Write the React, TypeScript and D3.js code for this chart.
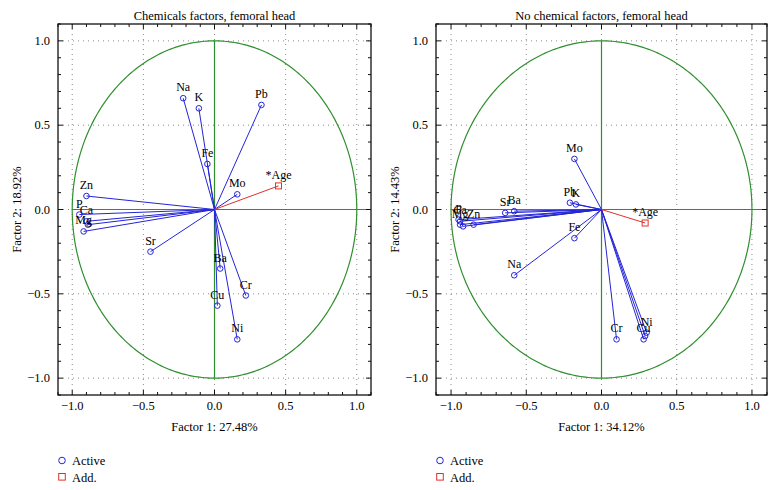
import React from "react";
import * as d3 from "d3";

// ---------- data ----------
const leftTitle = "Chemicals factors, femoral head";
const rightTitle = "No chemical factors, femoral head";
const leftXLabel = "Factor 1: 27.48%";
const leftYLabel = "Factor 2: 18.92%";
const rightXLabel = "Factor 1: 34.12%";
const rightYLabel = "Factor 2: 14.43%";

const leftNames = ["Na", "K", "Pb", "Fe", "Mo", "Zn", "P", "Ca", "", "Mg", "Sr", "Ba", "Cr", "Cu", "Ni"];
const leftF1 = [-0.22, -0.11, 0.33, -0.05, 0.16, -0.9, -0.95, -0.9, -0.89, -0.92, -0.45, 0.04, 0.22, 0.02, 0.16];
const leftF2 = [0.66, 0.6, 0.62, 0.27, 0.09, 0.08, -0.03, -0.07, -0.09, -0.13, -0.25, -0.35, -0.51, -0.57, -0.77];
const leftAdd = { name: "*Age", f1: 0.45, f2: 0.14 };

const rightNames = ["Mo", "Pb", "K", "Sr", "Ba", "Fe", "Na", "Cr", "Ni", "", "Cu", "P", "Ca", "Mg", "", "Zn"];
const rightF1 = [-0.18, -0.21, -0.17, -0.64, -0.58, -0.18, -0.58, 0.1, 0.3, 0.29, 0.28, -0.95, -0.94, -0.94, -0.92, -0.85];
const rightF2 = [0.3, 0.04, 0.03, -0.02, -0.01, -0.17, -0.39, -0.77, -0.73, -0.75, -0.77, -0.06, -0.07, -0.09, -0.1, -0.09];
const rightAdd = { name: "*Age", f1: 0.29, f2: -0.08 };

const majorTicks = [-1.0, -0.5, 0.0, 0.5, 1.0];
const tickLabels = ["\u22121.0", "\u22120.5", "0.0", "0.5", "1.0"];
const legendLabels = ["Active", "Add."];

// ---------- style ----------
const FONT = "'Liberation Serif', 'DejaVu Serif', serif";
const BLUE = "#2424d8";
const RED = "#e0302c";
const GREEN = "#2f8f2f";

type PanelProps = {
  x0: number; x1: number; y0: number; y1: number;
  title: string; xLabel: string; yLabel: string;
  names: string[]; f1: number[]; f2: number[];
  add: { name: string; f1: number; f2: number };
  legendX: number;
};

function Panel(p: PanelProps) {
  const x = d3.scaleLinear().domain([-1.1, 1.1]).range([p.x0, p.x1]);
  const y = d3.scaleLinear().domain([-1.1, 1.1]).range([p.y1, p.y0]);
  const minor = d3.range(-11, 12).map((i) => i / 10);
  const circlePath = d3.line<number>()
    .x((t) => x(Math.cos(t)))
    .y((t) => y(Math.sin(t)))(d3.range(0, 361).map((d) => (d * Math.PI) / 180));
  const cx = (p.x0 + p.x1) / 2;
  const cy = (p.y0 + p.y1) / 2;
  return (
    <g>
      <text x={cx} y={20} textAnchor="middle" fontSize={12.5} fontFamily={FONT}>{p.title}</text>
      {/* grid */}
      {majorTicks.map((t, i) => (
        <g key={"g" + i}>
          <line x1={x(t)} x2={x(t)} y1={p.y0} y2={p.y1} stroke="#8a8a8a" strokeWidth={1} strokeDasharray="1 4" />
          <line x1={p.x0} x2={p.x1} y1={y(t)} y2={y(t)} stroke="#8a8a8a" strokeWidth={1} strokeDasharray="1 4" />
        </g>
      ))}
      {/* unit circle and axes */}
      <path d={circlePath || ""} fill="none" stroke={GREEN} strokeWidth={1.2} />
      <line x1={x(0)} x2={x(0)} y1={y(1)} y2={y(-1)} stroke={GREEN} strokeWidth={1.2} />
      <line x1={x(-1)} x2={p.x1} y1={y(0)} y2={y(0)} stroke={GREEN} strokeWidth={1.2} />
      {/* vectors */}
      {p.names.map((n, i) => (
        <line key={"v" + i} x1={x(0)} y1={y(0)} x2={x(p.f1[i])} y2={y(p.f2[i])} stroke={BLUE} strokeWidth={1} />
      ))}
      <line x1={x(0)} y1={y(0)} x2={x(p.add.f1)} y2={y(p.add.f2)} stroke={RED} strokeWidth={1} />
      {p.names.map((n, i) => (
        <circle key={"c" + i} cx={x(p.f1[i])} cy={y(p.f2[i])} r={2.8} fill="none" stroke={BLUE} strokeWidth={1} />
      ))}
      <rect x={x(p.add.f1) - 3} y={y(p.add.f2) - 3} width={6} height={6} fill="none" stroke={RED} strokeWidth={1} />
      {p.names.map((n, i) => (
        <text key={"t" + i} x={x(p.f1[i])} y={y(p.f2[i]) - 7} textAnchor="middle" fontSize={12} fontFamily={FONT}>{n}</text>
      ))}
      <text x={x(p.add.f1)} y={y(p.add.f2) - 7} textAnchor="middle" fontSize={12} fontFamily={FONT}>{p.add.name}</text>
      {/* frame */}
      <rect x={p.x0} y={p.y0} width={p.x1 - p.x0} height={p.y1 - p.y0} fill="none" stroke="#111" strokeWidth={1.3} />
      {/* ticks */}
      {minor.map((t, i) => {
        const major = Math.abs(t * 2 - Math.round(t * 2)) < 1e-6 && Math.abs(t) <= 1;
        const L = major ? 5 : 3;
        return (
          <g key={"k" + i} stroke="#111" strokeWidth={1}>
            <line x1={x(t)} x2={x(t)} y1={p.y1} y2={p.y1 - L} />
            <line x1={x(t)} x2={x(t)} y1={p.y0} y2={p.y0 + L} />
            <line x1={p.x0} x2={p.x0 + L} y1={y(t)} y2={y(t)} />
            <line x1={p.x1} x2={p.x1 - L} y1={y(t)} y2={y(t)} />
          </g>
        );
      })}
      {majorTicks.map((t, i) => (
        <g key={"l" + i} fontSize={12.5} fontFamily={FONT}>
          <text x={x(t)} y={p.y1 + 15} textAnchor="middle">{tickLabels[i]}</text>
          <text x={p.x0 - 8} y={y(t) + 4} textAnchor="end">{tickLabels[i]}</text>
        </g>
      ))}
      <text x={x(0)} y={431} textAnchor="middle" fontSize={12.5} fontFamily={FONT}>{p.xLabel}</text>
      <text transform={`translate(${p.x0 - 37},${cy}) rotate(-90)`} textAnchor="middle" fontSize={12.5} fontFamily={FONT}>{p.yLabel}</text>
      {/* legend */}
      <circle cx={p.legendX} cy={460.5} r={3.3} fill="none" stroke={BLUE} strokeWidth={1} />
      <text x={p.legendX + 10} y={465} fontSize={12.5} fontFamily={FONT}>{legendLabels[0]}</text>
      <rect x={p.legendX - 3.3} y={473.5} width={6.6} height={6.6} fill="none" stroke={RED} strokeWidth={1} />
      <text x={p.legendX + 10} y={481.5} fontSize={12.5} fontFamily={FONT}>{legendLabels[1]}</text>
    </g>
  );
}

export default function App() {
  return (
    <svg width={775} height={490} style={{ position: "absolute", left: 0, top: 0, background: "#fff" }}>
      <rect width={775} height={490} fill="#fff" />
      <Panel x0={58} x1={371} y0={24} y1={395} title={leftTitle} xLabel={leftXLabel} yLabel={leftYLabel}
        names={leftNames} f1={leftF1} f2={leftF2} add={leftAdd} legendX={62} />
      <Panel x0={436} x1={767} y0={24} y1={395} title={rightTitle} xLabel={rightXLabel} yLabel={rightYLabel}
        names={rightNames} f1={rightF1} f2={rightF2} add={rightAdd} legendX={440} />
    </svg>
  );
}
